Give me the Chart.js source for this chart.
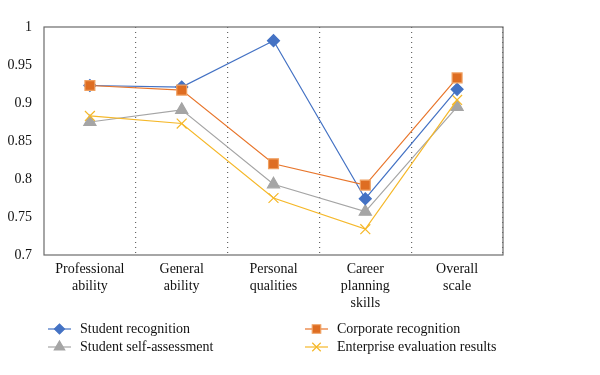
<!DOCTYPE html>
<html>
<head>
<meta charset="utf-8">
<style>
  html, body { margin: 0; padding: 0; background: #fff; }
  #wrap { width: 600px; height: 375px; }
</style>
</head>
<body>
<div id="wrap"><canvas id="scoreChart" width="600" height="375"></canvas></div>
<script src="https://cdn.jsdelivr.net/npm/chart.js"></script>
<script>
const categories = [
  ['Professional', 'ability'],
  ['General', 'ability'],
  ['Personal', 'qualities'],
  ['Career', 'planning', 'skills'],
  ['Overall', 'scale']
];
const studentRecognition = [0.923, 0.921, 0.982, 0.774, 0.918];
const corporateRecognition = [0.923, 0.917, 0.820, 0.792, 0.933];
const studentSelfAssessment = [0.875, 0.891, 0.793, 0.757, 0.895];
const enterpriseResults = [0.883, 0.873, 0.775, 0.734, 0.904];
const yTicks = [0.7, 0.75, 0.8, 0.85, 0.9, 0.95, 1];

const serif = '"Liberation Serif", "DejaVu Serif", serif';

// caja del área de trazado + leyenda a dos columnas
const frameAndLegend = {
  id: 'frameAndLegend',
  afterDraw(chart) {
    const { ctx, chartArea: a } = chart;
    ctx.save();
    ctx.strokeStyle = '#6b6b6b';
    ctx.lineWidth = 1.2;
    ctx.strokeRect(a.left, a.top, a.right - a.left, a.bottom - a.top);

    const slots = [
      { x: 48, y: 329 }, { x: 305, y: 329 },
      { x: 48, y: 347 }, { x: 305, y: 347 }
    ];
    slots.forEach((s, di) => {
      const ds = chart.data.datasets[di];
      ctx.strokeStyle = ds.borderColor;
      ctx.lineWidth = 1.2;
      ctx.beginPath();
      ctx.moveTo(s.x, s.y);
      ctx.lineTo(s.x + 23, s.y);
      ctx.stroke();
      ctx.fillStyle = ds.backgroundColor;
      ctx.strokeStyle = ds.pointBorderColor;
      Chart.helpers.drawPoint(ctx, {
        pointStyle: ds.pointStyle,
        rotation: 0,
        radius: ds.pointRadius - 1,
        borderWidth: 1
      }, s.x + 11.5, s.y);
      ctx.fillStyle = '#111';
      ctx.font = '14px ' + serif;
      ctx.textBaseline = 'middle';
      ctx.textAlign = 'left';
      ctx.fillText(ds.label, s.x + 32, s.y);
    });
    ctx.restore();
  }
};

const ctx = document.getElementById('scoreChart').getContext('2d');

new Chart(ctx, {
  type: 'line',
  data: {
    labels: categories,
    datasets: [
      {
        label: 'Student recognition',
        data: studentRecognition,
        borderColor: '#4472c4',
        backgroundColor: '#4472c4',
        pointBorderColor: '#4472c4',
        pointStyle: 'rectRot',
        pointRadius: 6,
        borderWidth: 1.2,
        order: 1
      },
      {
        label: 'Corporate recognition',
        data: corporateRecognition,
        borderColor: '#e8762c',
        backgroundColor: '#de6d22',
        pointBorderColor: '#f0a060',
        pointStyle: 'rect',
        pointRadius: 7,
        borderWidth: 1.2,
        order: 0
      },
      {
        label: 'Student self-assessment',
        data: studentSelfAssessment,
        borderColor: '#a5a5a5',
        backgroundColor: '#a5a5a5',
        pointBorderColor: '#a5a5a5',
        pointStyle: 'triangle',
        pointRadius: 7,
        borderWidth: 1.2,
        order: 3
      },
      {
        label: 'Enterprise evaluation results',
        data: enterpriseResults,
        borderColor: '#f5b82a',
        backgroundColor: '#f5b82a',
        pointBorderColor: '#f5b82a',
        pointStyle: 'crossRot',
        pointRadius: 7,
        pointBorderWidth: 1.2,
        borderWidth: 1.2,
        order: 2
      }
    ]
  },
  options: {
    responsive: false,
    animation: false,
    layout: { padding: { top: 27, right: 97, left: 0, bottom: 0 } },
    plugins: {
      legend: { display: false },
      tooltip: { enabled: false }
    },
    elements: { line: { tension: 0 } },
    scales: {
      x: {
        offset: true,
        afterFit(scale) { scale.height = 120; },
        grid: {
          offset: true,
          drawTicks: false,
          color: (c) => (c.index === 0 || c.index >= categories.length ? 'rgba(0,0,0,0)' : '#666'),
          lineWidth: 1.2,
          tickBorderDash: [1, 4]
        },
        border: { display: false, dash: [1, 4] },
        ticks: {
          color: '#111',
          font: { family: serif, size: 14 },
          padding: 6,
          maxRotation: 0,
          autoSkip: false
        }
      },
      y: {
        min: 0.7,
        max: 1,
        afterFit(scale) { scale.width = 44; },
        afterBuildTicks(scale) { scale.ticks = yTicks.map(v => ({ value: v })); },
        grid: { display: false },
        border: { display: false },
        ticks: {
          color: '#111',
          font: { family: serif, size: 14 },
          padding: 4,
          callback: (v) => String(v)
        }
      }
    }
  },
  plugins: [frameAndLegend]
});
</script>
</body>
</html>
